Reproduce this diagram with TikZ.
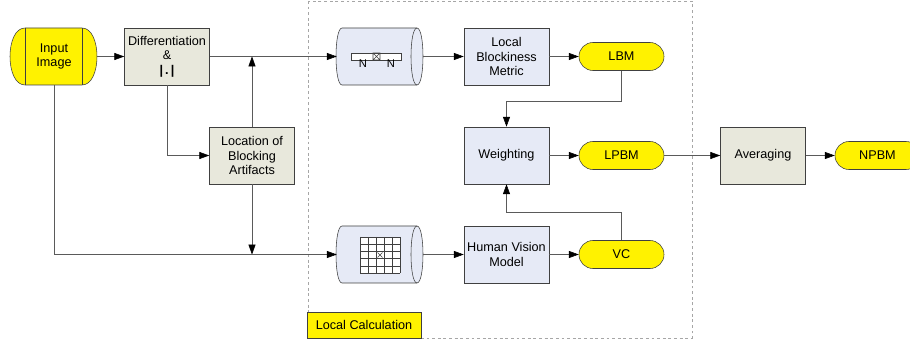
\documentclass[tikz,border=0pt]{standalone}
\usepackage{fontspec}
\setmainfont{Liberation Sans}
\usetikzlibrary{arrows.meta}
\definecolor{boxgray}{RGB}{232,232,220}
\definecolor{boxblue}{RGB}{230,234,246}
\definecolor{edgegray}{RGB}{64,64,64}
\definecolor{wiregray}{RGB}{90,90,90}
\begin{document}
\begin{tikzpicture}[x=0.025cm, y=-0.025cm,
  every node/.style={font=\fontsize{9}{10.3}\selectfont, align=center},
  blk/.style={draw=edgegray, minimum width=2.125cm, minimum height=1.425cm, inner sep=1pt},
  graybox/.style={blk, fill=boxgray},
  bluebox/.style={blk, fill=boxblue},
  pill/.style={draw=edgegray, fill=yellow, rounded corners=0.35cm, minimum width=2.125cm, minimum height=0.7cm},
  wire/.style={draw=wiregray, -{Triangle[length=7pt,width=5pt,color=black]}}]
\useasboundingbox (0,0) rectangle (910,347);
% local calculation frame
\path[draw=gray!70, dash pattern=on 2pt off 2pt] (308,1) rectangle (692,338);
\node[draw=edgegray, fill=yellow, minimum width=2.85cm, minimum height=0.65cm] (lcalc) at (364,325) {Local Calculation};
% input image
\path[draw=edgegray, fill=yellow] (25,28) -- (82,28) .. controls (102,28) and (102,85) .. (82,85) -- (25,85) .. controls (5,85) and (5,28) .. (25,28) -- cycle;
\path[draw=edgegray] (25,28) -- (25,85) (82,28) -- (82,85);
\node[minimum width=2.15cm, minimum height=1.425cm, inner sep=0pt] (inp) at (54,56.5) {Input\\Image};
\node[graybox] (diff) at (167,56.5) {Differentiation\\\&\\{\bfseries |\,.\,|}};
\node[graybox] (loc) at (252,155.5) {Location of\\Blocking\\Artifacts};
% cylinders
\foreach \dy in {0,198} {
\begin{scope}[shift={(0,\dy)}]
\path[draw=edgegray, fill=boxblue] (342,28) -- (417,28) .. controls (425,28) and (425,85) .. (417,85) -- (342,85) .. controls (334,85) and (334,28) .. (342,28) -- cycle;
\path[draw=edgegray] (417,28) .. controls (409,28) and (409,85) .. (417,85);
\end{scope}
}
\node[minimum width=2.15cm, minimum height=1.425cm, inner sep=0pt] (cyla) at (380,56.5) {};
\node[minimum width=2.15cm, minimum height=1.425cm, inner sep=0pt] (cylb) at (380,254.5) {};
% 1-d window
\path[draw=edgegray, fill=white] (351,53) rectangle (401,60);
\path[draw=edgegray] (373,53) rectangle (380,60) (373,53) -- (380,60) (373,60) -- (380,53);
\node[font=\fontsize{8}{8}\selectfont, inner sep=0pt] (na) at (363,64) {N};
\node[font=\fontsize{8}{8}\selectfont, inner sep=0pt] (nb) at (391,64) {N};
% 2-d window
\path[fill=white] (360,237) rectangle (400,273);
\foreach \i in {0,...,5} {
\path[draw=edgegray] ({360+8*\i},237) -- ({360+8*\i},273);
\path[draw=edgegray] (360,{237+7.2*\i}) -- (400,{237+7.2*\i});
}
\path[draw=edgegray] (377.5,252.5) -- (382.5,257.5) (377.5,257.5) -- (382.5,252.5);
% blocks
\node[bluebox] (lbmet) at (506.5,56.5) {Local\\Blockiness\\Metric};
\node[bluebox] (weight) at (506.5,155.5) {Weighting};
\node[bluebox] (hvm) at (506.5,254.5) {Human Vision\\Model};
\node[pill] (lbm) at (621.5,56.5) {LBM};
\node[pill] (lpbm) at (621.5,155.5) {LPBM};
\node[pill] (vc) at (621.5,254.5) {VC};
\node[graybox] (avg) at (763,155.5) {Averaging};
\node[pill] (npbm) at (877.5,155.5) {NPBM};
% connectors
\path[wire] (inp) -- (diff);
\path[wire] (diff) -- (cyla);
\path[wire] (diff) |- (loc);
\path[wire] (loc) -- (loc |- diff);
\path[wire] (loc) -- (loc |- cylb);
\path[wire] (inp) |- (cylb);
\path[wire] (cyla) -- (lbmet);
\path[wire] (lbmet) -- (lbm);
\path[wire] (cylb) -- (hvm);
\path[wire] (hvm) -- (vc);
\path[wire] (lbm.south) -- ++(0,30) -| (weight);
\path[wire] (vc.north) -- ++(0,-28) -| (weight);
\path[wire] (weight) -- (lpbm);
\path[wire] (lpbm) -- (avg);
\path[wire] (avg) -- (npbm);
\end{tikzpicture}
\end{document}
